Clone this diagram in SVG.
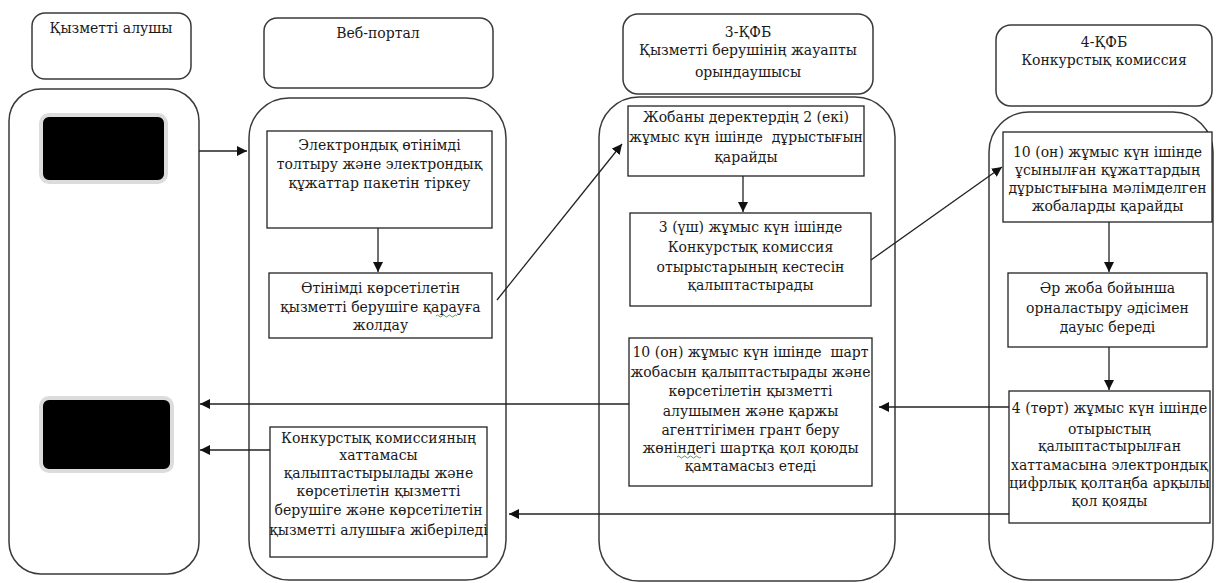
<svg xmlns="http://www.w3.org/2000/svg" width="1216" height="583" viewBox="0 0 1216 583">
  <style>
    .lane { fill: #fff; stroke: #3a3a3a; stroke-width: 1.5; }
    .head { fill: #fff; stroke: #3a3a3a; stroke-width: 1.5; }
    .box { fill: #fff; stroke: #222; stroke-width: 1.3; }
    .pad { fill: #000; stroke: #dcdcdc; stroke-width: 4; }
    .t { font-family: "DejaVu Serif", "Liberation Serif", serif; font-size: 14px; fill: #1a1a1a; text-anchor: middle; }
    .c { fill: none; stroke: #222; stroke-width: 1.3; }
    .sq { fill: none; stroke: #3a9a3a; stroke-width: 0.9; }
  </style>
  <defs>
    <marker id="ah" viewBox="0 0 10 10" refX="10" refY="5" markerWidth="10" markerHeight="10" markerUnits="userSpaceOnUse" orient="auto">
      <path d="M0,0 L10,5 L0,10 z" fill="#111"/>
    </marker>
  </defs>

  <!-- swimlane headers -->
  <g id="head-1">
    <rect class="head" x="32" y="13" width="159" height="66" rx="13"/>
    <text class="t" x="111" y="33">Қызметті алушы</text>
  </g>
  <g id="head-2">
    <rect class="head" x="264" y="18" width="229" height="70" rx="13"/>
    <text class="t" x="378" y="38">Веб-портал</text>
  </g>
  <g id="head-3">
    <rect class="head" x="623" y="14" width="250" height="80" rx="15"/>
    <text class="t" x="748" y="37">3-ҚФБ</text>
    <text class="t" x="748" y="55">Қызметті берушінің жауапты</text>
    <text class="t" x="748" y="77">орындаушысы</text>
  </g>
  <g id="head-4">
    <rect class="head" x="996" y="25" width="216" height="81" rx="15"/>
    <text class="t" x="1104" y="47">4-ҚФБ</text>
    <text class="t" x="1104" y="65">Конкурстық комиссия</text>
  </g>

  <!-- swimlane bodies -->
  <g id="lane-1">
    <rect class="lane" x="9" y="89" width="190" height="485" rx="32"/>
    <rect class="pad" x="41" y="115" width="125" height="67" rx="8"/>
    <rect class="pad" x="41" y="398" width="131" height="73" rx="8"/>
  </g>
  <g id="lane-2">
    <rect class="lane" x="249" y="98" width="257" height="482" rx="40"/>
  </g>
  <g id="lane-3">
    <rect class="lane" x="599" y="97" width="296" height="484" rx="40"/>
  </g>
  <g id="lane-4">
    <rect class="lane" x="989" y="112" width="224" height="468" rx="40"/>
  </g>

  <!-- process steps -->
  <g id="step-a">
    <rect class="box" x="267" y="131" width="225" height="97"/>
    <text class="t" x="379.5" y="150">Электрондық өтінімді</text>
    <text class="t" x="379.5" y="169">толтыру және электрондық</text>
    <text class="t" x="379.5" y="188">құжаттар пакетін тіркеу</text>
  </g>
  <g id="step-b">
    <rect class="box" x="269" y="273" width="223" height="65"/>
    <text class="t" x="380.5" y="293">Өтінімді көрсетілетін</text>
    <text class="t" x="380.5" y="312">қызметті берушіге қарауға</text>
    <text class="t" x="380.5" y="330">жолдау</text>
    <path class="sq" d="M436,316 q1.5,-2 3,0 t3,0 t3,0 t3,0 t3,0 t3,0 t3,0"/>
  </g>
  <g id="step-c">
    <rect class="box" x="628" y="106" width="236" height="70"/>
    <text class="t" x="746" y="122">Жобаны деректердің 2 (екі)</text>
    <text class="t" x="746" y="142">жұмыс күн ішінде&#160; дұрыстығын</text>
    <text class="t" x="746" y="162">қарайды</text>
  </g>
  <g id="step-d">
    <rect class="box" x="630" y="213" width="241" height="93"/>
    <text class="t" x="750.5" y="232">3 (үш) жұмыс күн ішінде</text>
    <text class="t" x="750.5" y="252">Конкурстық комиссия</text>
    <text class="t" x="750.5" y="272">отырыстарының кестесін</text>
    <text class="t" x="750.5" y="290">қалыптастырады</text>
  </g>
  <g id="step-e">
    <rect class="box" x="629" y="338" width="243" height="148"/>
    <text class="t" x="750.5" y="357">10 (он) жұмыс күн ішінде&#160; шарт</text>
    <text class="t" x="750.5" y="377">жобасын қалыптастырады және</text>
    <text class="t" x="750.5" y="396">көрсетілетін қызметті</text>
    <text class="t" x="750.5" y="416">алушымен және қаржы</text>
    <text class="t" x="750.5" y="435">агенттігімен грант беру</text>
    <text class="t" x="750.5" y="453">жөніндегі шартқа қол қоюды</text>
    <text class="t" x="750.5" y="471">қамтамасыз етеді</text>
    <path class="sq" d="M677,457 q1.5,-2 3,0 t3,0 t3,0 t3,0 t3,0 t3,0 t3,0 t3,0"/>
  </g>
  <g id="step-f">
    <rect class="box" x="270" y="427" width="217" height="130"/>
    <text class="t" x="378.5" y="443">Конкурстық комиссияның</text>
    <text class="t" x="378.5" y="460">хаттамасы</text>
    <text class="t" x="378.5" y="478">қалыптастырылады және</text>
    <text class="t" x="378.5" y="496">көрсетілетін қызметті</text>
    <text class="t" x="378.5" y="515">берушіге және көрсетілетін</text>
    <text class="t" x="378.5" y="535">қызметті алушыға жіберіледі</text>
  </g>
  <g id="step-g">
    <rect class="box" x="1003" y="132" width="209" height="90"/>
    <text class="t" x="1107.5" y="157">10 (он) жұмыс күн ішінде</text>
    <text class="t" x="1107.5" y="175">ұсынылған құжаттардың</text>
    <text class="t" x="1107.5" y="193">дұрыстығына мәлімделген</text>
    <text class="t" x="1107.5" y="211">жобаларды қарайды</text>
  </g>
  <g id="step-h">
    <rect class="box" x="1008" y="273" width="199" height="74"/>
    <text class="t" x="1107.5" y="293">Әр жоба бойынша</text>
    <text class="t" x="1107.5" y="313">орналастыру әдісімен</text>
    <text class="t" x="1107.5" y="332">дауыс береді</text>
  </g>
  <g id="step-i">
    <rect class="box" x="1009" y="391" width="201" height="132"/>
    <text class="t" x="1109.5" y="413">4 (төрт) жұмыс күн ішінде</text>
    <text class="t" x="1109.5" y="434">отырыстың</text>
    <text class="t" x="1109.5" y="451">қалыптастырылған</text>
    <text class="t" x="1109.5" y="470">хаттамасына электрондық</text>
    <text class="t" x="1109.5" y="488">цифрлық қолтаңба арқылы</text>
    <text class="t" x="1109.5" y="506">қол қояды</text>
  </g>

  <!-- connectors -->
  <g id="connectors">
    <line class="c" x1="199" y1="151" x2="247" y2="151" marker-end="url(#ah)"/>
    <line class="c" x1="378" y1="228" x2="378" y2="272" marker-end="url(#ah)"/>
    <line class="c" x1="497" y1="300" x2="622" y2="144" marker-end="url(#ah)"/>
    <line class="c" x1="743" y1="176" x2="743" y2="212" marker-end="url(#ah)"/>
    <line class="c" x1="871" y1="260" x2="1002" y2="167" marker-end="url(#ah)"/>
    <line class="c" x1="1109" y1="222" x2="1109" y2="272" marker-end="url(#ah)"/>
    <line class="c" x1="1109" y1="347" x2="1109" y2="390" marker-end="url(#ah)"/>
    <line class="c" x1="1009" y1="407" x2="879" y2="407" marker-end="url(#ah)"/>
    <line class="c" x1="629" y1="404" x2="200" y2="404" marker-end="url(#ah)"/>
    <line class="c" x1="270" y1="450" x2="200" y2="450" marker-end="url(#ah)"/>
    <line class="c" x1="1009" y1="514" x2="509" y2="514" marker-end="url(#ah)"/>
  </g>
</svg>
